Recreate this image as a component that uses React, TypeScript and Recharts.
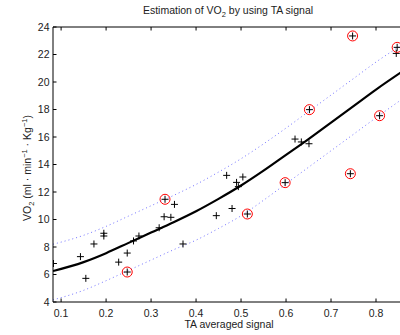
import { ComposedChart, Line, Scatter, XAxis, YAxis } from 'recharts';

// fitted curve and its dotted band
const gridX = [0.082, 0.15, 0.2, 0.25, 0.3, 0.35, 0.4, 0.45, 0.5, 0.55, 0.6, 0.65, 0.7, 0.75, 0.8, 0.86];
const fitY = [6.25, 6.9, 7.55, 8.3, 9.05, 9.8, 10.6, 11.5, 12.47, 13.55, 14.7, 15.85, 17.05, 18.25, 19.45, 20.8];
const upperY = [8.2, 8.85, 9.5, 10.25, 11.0, 11.75, 12.55, 13.45, 14.42, 15.5, 16.65, 17.85, 19.05, 20.25, 21.45, 22.75];
const lowerY = [4.15, 4.85, 5.55, 6.3, 7.05, 7.8, 8.5, 9.35, 10.27, 11.4, 12.6, 13.8, 15.0, 16.2, 17.4, 18.8];

// measured samples
const sampleX = [0.083, 0.143, 0.155, 0.173, 0.195, 0.195, 0.228, 0.247, 0.261, 0.273, 0.318, 0.329, 0.344, 0.352, 0.371, 0.445, 0.468, 0.48, 0.49, 0.494, 0.504, 0.62, 0.634, 0.651, 0.845];
const sampleY = [6.8, 7.3, 5.72, 8.22, 9.0, 8.8, 6.9, 7.56, 8.44, 8.8, 9.4, 10.2, 10.16, 11.1, 8.22, 10.28, 13.21, 10.8, 12.7, 12.39, 13.09, 15.85, 15.64, 15.51, 22.08];

// samples marked with a red circle
const outlierX = [0.247, 0.331, 0.514, 0.598, 0.652, 0.743, 0.748, 0.808, 0.847];
const outlierY = [6.18, 11.47, 10.4, 12.68, 17.99, 13.33, 23.35, 17.55, 22.52];

const xTicks = [0.1, 0.2, 0.3, 0.4, 0.5, 0.6, 0.7, 0.8];
const yTicks = [4, 6, 8, 10, 12, 14, 16, 18, 20, 22, 24];

const fitTable = gridX.map((x, i) => ({ x, fit: fitY[i], upper: upperY[i], lower: lowerY[i] }));
const samples = sampleX.map((x, i) => ({ x, y: sampleY[i] }));
const outliers = outlierX.map((x, i) => ({ x, y: outlierY[i] }));

const FONT = '"Liberation Sans", Arial, Helvetica, sans-serif';
const TICK = 3.5;
const XM = 8;
const YM = 3.5;

const Plus = ({ cx, cy }: any) => (
  <g stroke="#000" strokeWidth={1}>
    <line x1={cx - 3.5} x2={cx + 3.5} y1={cy} y2={cy} />
    <line x1={cx} x2={cx} y1={cy - 3.5} y2={cy + 3.5} />
  </g>
);

const CircledPlus = ({ cx, cy }: any) => (
  <g>
    <Plus cx={cx} cy={cy} />
    <circle cx={cx} cy={cy} r={5} fill="none" stroke="#f00" strokeWidth={1} />
  </g>
);

const BottomTick = ({ x, y, payload }: any) => (
  <g>
    <line x1={x} x2={x} y1={y - XM} y2={y - XM - TICK} stroke="#000" />
    <text x={x} y={y} dy="0.71em" textAnchor="middle" fontSize={10.5} fontFamily={FONT} fill="#222">
      {payload.value}
    </text>
  </g>
);

const TopTick = ({ x, y }: any) => <line x1={x} x2={x} y1={y} y2={y + TICK} stroke="#000" />;

const LeftTick = ({ x, y, payload }: any) => (
  <g>
    <line x1={x + YM} x2={x + YM + TICK} y1={y} y2={y} stroke="#000" />
    <text x={x} y={y} dy="0.355em" textAnchor="end" fontSize={10.5} fontFamily={FONT} fill="#222">
      {payload.value}
    </text>
  </g>
);

const textStyle = { position: 'absolute' as const, fontFamily: FONT, fontSize: 10.5, lineHeight: '12px', color: '#222', whiteSpace: 'nowrap' as const };
const sub = { fontSize: 7.5, verticalAlign: 'baseline', position: 'relative' as const, top: 3, lineHeight: 0 };
const sup = { fontSize: 7.5, verticalAlign: 'baseline', position: 'relative' as const, top: -4, lineHeight: 0 };

export default function App() {
  return (
    <div style={{ position: 'fixed', left: 0, top: 0, width: 400, height: 335, overflow: 'hidden', background: '#fff' }}>
      <ComposedChart width={404} height={335} data={fitTable} margin={{ top: 26, right: 1, bottom: 0, left: 0 }}>
        <XAxis
          dataKey="x"
          type="number"
          domain={[0.082, 0.86]}
          allowDataOverflow
          ticks={xTicks}
          tickSize={0}
          tickMargin={XM}
          tickLine={false}
          tick={<BottomTick />}
          height={33}
          stroke="#000"
        />
        <XAxis
          xAxisId="top"
          dataKey="x"
          orientation="top"
          type="number"
          domain={[0.082, 0.86]}
          allowDataOverflow
          ticks={xTicks}
          tickSize={0}
          tickMargin={0}
          tickLine={false}
          tick={<TopTick />}
          height={1}
          stroke="#000"
        />
        <YAxis
          type="number"
          domain={[4, 24]}
          allowDataOverflow
          ticks={yTicks}
          tickSize={0}
          tickMargin={YM}
          tickLine={false}
          tick={<LeftTick />}
          width={53}
          stroke="#000"
        />
        {/* invisible copy so the top (box) axis gets a series */}
        <Line xAxisId="top" dataKey="fit" stroke="none" dot={false} legendType="none" isAnimationActive={false} />
        <Line dataKey="upper" type="monotone" stroke="#7373ff" strokeWidth={1} strokeDasharray="1 3" dot={false} isAnimationActive={false} />
        <Line dataKey="lower" type="monotone" stroke="#7373ff" strokeWidth={1} strokeDasharray="1 3" dot={false} isAnimationActive={false} />
        <Line dataKey="fit" type="monotone" stroke="#000" strokeWidth={2.2} dot={false} isAnimationActive={false} />
        <Scatter data={samples} dataKey="y" shape={<Plus />} isAnimationActive={false} />
        <Scatter data={outliers} dataKey="y" shape={<CircledPlus />} isAnimationActive={false} />
      </ComposedChart>
      <div style={{ ...textStyle, left: 228, top: 4.3, transform: 'translateX(-50%)' }}>
        Estimation of VO<span style={sub}>2</span> by using TA signal
      </div>
      <div style={{ ...textStyle, left: 229, top: 318.4, transform: 'translateX(-50%)' }}>TA averaged signal</div>
      <div style={{ ...textStyle, left: 26.8, top: 167.5, transform: 'translate(-50%, -50%) rotate(-90deg)' }}>
        VO<span style={sub}>2</span> (ml · min<span style={sup}>−1</span> · Kg<span style={sup}>−1</span>)
      </div>
    </div>
  );
}
